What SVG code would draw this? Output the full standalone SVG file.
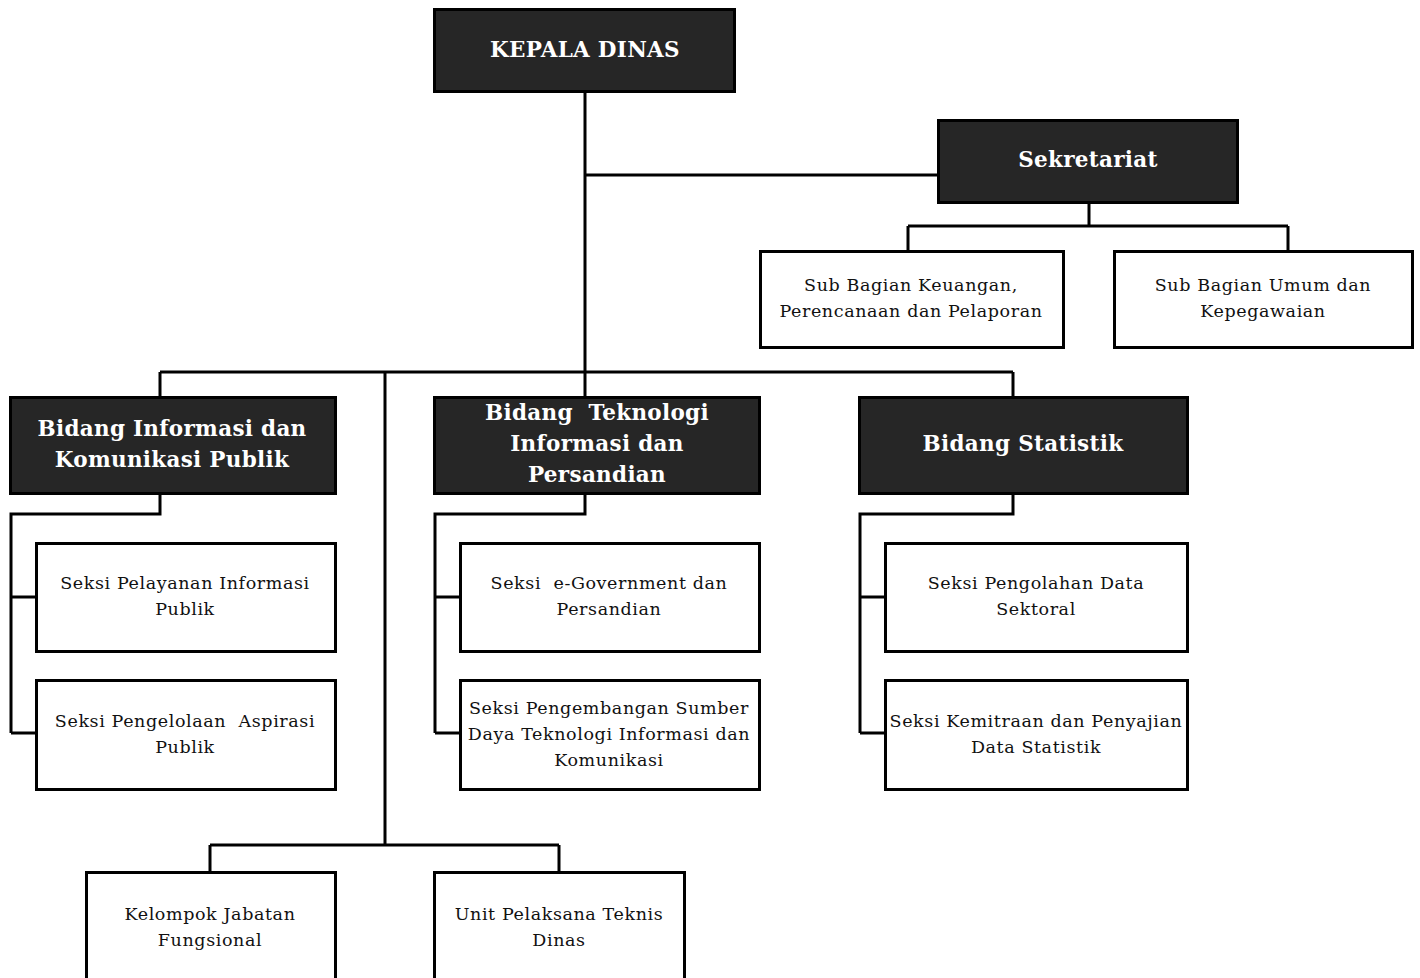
<svg xmlns="http://www.w3.org/2000/svg" width="1420" height="978" viewBox="0 0 1420 978">
<style>
.dark{fill:#262626;stroke:#000;stroke-width:3}
.light{fill:#fff;stroke:#000;stroke-width:3}
.hd{font-family:"DejaVu Serif","Liberation Serif",serif;font-weight:bold;font-size:21.5px;letter-spacing:0.3px;fill:#fff;text-anchor:middle}
.tx{font-family:"DejaVu Serif","Liberation Serif",serif;font-size:17.5px;letter-spacing:0.6px;fill:#111;text-anchor:middle}
.ln{fill:none;stroke:#000;stroke-width:3}
</style>
<rect width="1420" height="978" fill="#fff"/>
<g id="connectors">
<path class="ln" d="M585 92V372"/>
<path class="ln" d="M585 175H937"/>
<path class="ln" d="M1089 203V226M908 226H1288M908 226V250M1288 226V250"/>
<path class="ln" d="M160 372H1013M160 372V396M385 372V845M585 372V396M1013 372V396"/>
<path class="ln" d="M160 494V514H11V733M11 597H35M11 733H35"/>
<path class="ln" d="M585 494V514H435V733M435 597H459M435 733H459"/>
<path class="ln" d="M1013 494V514H860V733M860 597H884M860 733H884"/>
<path class="ln" d="M210 845H559M210 845V871M559 845V871"/>
</g>
<g id="kepala"><rect class="dark" x="434.5" y="9.5" width="300" height="82"/><text class="hd" x="585" y="57">KEPALA DINAS</text></g>
<g id="sekretariat"><rect class="dark" x="938.5" y="120.5" width="299" height="82"/><text class="hd" x="1088" y="167">Sekretariat</text></g>
<g id="keuangan"><rect class="light" x="760.5" y="251.5" width="303" height="96"/><text class="tx" x="911" y="291">Sub Bagian Keuangan,</text><text class="tx" x="911" y="317">Perencanaan dan Pelaporan</text></g>
<g id="umum"><rect class="light" x="1114.5" y="251.5" width="298" height="96"/><text class="tx" x="1263" y="291">Sub Bagian Umum dan</text><text class="tx" x="1263" y="317">Kepegawaian</text></g>
<g id="bidang-ikp"><rect class="dark" x="10.5" y="397.5" width="325" height="96"/><text class="hd" x="172" y="436">Bidang Informasi dan</text><text class="hd" x="172" y="467">Komunikasi Publik</text></g>
<g id="bidang-tik"><rect class="dark" x="434.5" y="397.5" width="325" height="96"/><text class="hd" x="597" y="420" xml:space="preserve">Bidang  Teknologi</text><text class="hd" x="597" y="451">Informasi dan</text><text class="hd" x="597" y="482">Persandian</text></g>
<g id="bidang-stat"><rect class="dark" x="859.5" y="397.5" width="328" height="96"/><text class="hd" x="1023" y="451">Bidang Statistik</text></g>
<g id="pelayanan"><rect class="light" x="36.5" y="543.5" width="299" height="108"/><text class="tx" x="185" y="589">Seksi Pelayanan Informasi</text><text class="tx" x="185" y="615">Publik</text></g>
<g id="aspirasi"><rect class="light" x="36.5" y="680.5" width="299" height="109"/><text class="tx" x="185" y="727" xml:space="preserve">Seksi Pengelolaan  Aspirasi</text><text class="tx" x="185" y="753">Publik</text></g>
<g id="egov"><rect class="light" x="460.5" y="543.5" width="299" height="108"/><text class="tx" x="609" y="589" xml:space="preserve">Seksi  e-Government dan</text><text class="tx" x="609" y="615">Persandian</text></g>
<g id="sdm"><rect class="light" x="460.5" y="680.5" width="299" height="109"/><text class="tx" x="609" y="714">Seksi Pengembangan Sumber</text><text class="tx" x="609" y="740">Daya Teknologi Informasi dan</text><text class="tx" x="609" y="766">Komunikasi</text></g>
<g id="pengolahan"><rect class="light" x="885.5" y="543.5" width="302" height="108"/><text class="tx" x="1036" y="589">Seksi Pengolahan Data</text><text class="tx" x="1036" y="615">Sektoral</text></g>
<g id="kemitraan"><rect class="light" x="885.5" y="680.5" width="302" height="109"/><text class="tx" x="1036" y="727">Seksi Kemitraan dan Penyajian</text><text class="tx" x="1036" y="753">Data Statistik</text></g>
<g id="fungsional"><rect class="light" x="86.5" y="872.5" width="249" height="120"/><text class="tx" x="210" y="920">Kelompok Jabatan</text><text class="tx" x="210" y="946">Fungsional</text></g>
<g id="upt"><rect class="light" x="434.5" y="872.5" width="250" height="120"/><text class="tx" x="559" y="920">Unit Pelaksana Teknis</text><text class="tx" x="559" y="946">Dinas</text></g>
</svg>
